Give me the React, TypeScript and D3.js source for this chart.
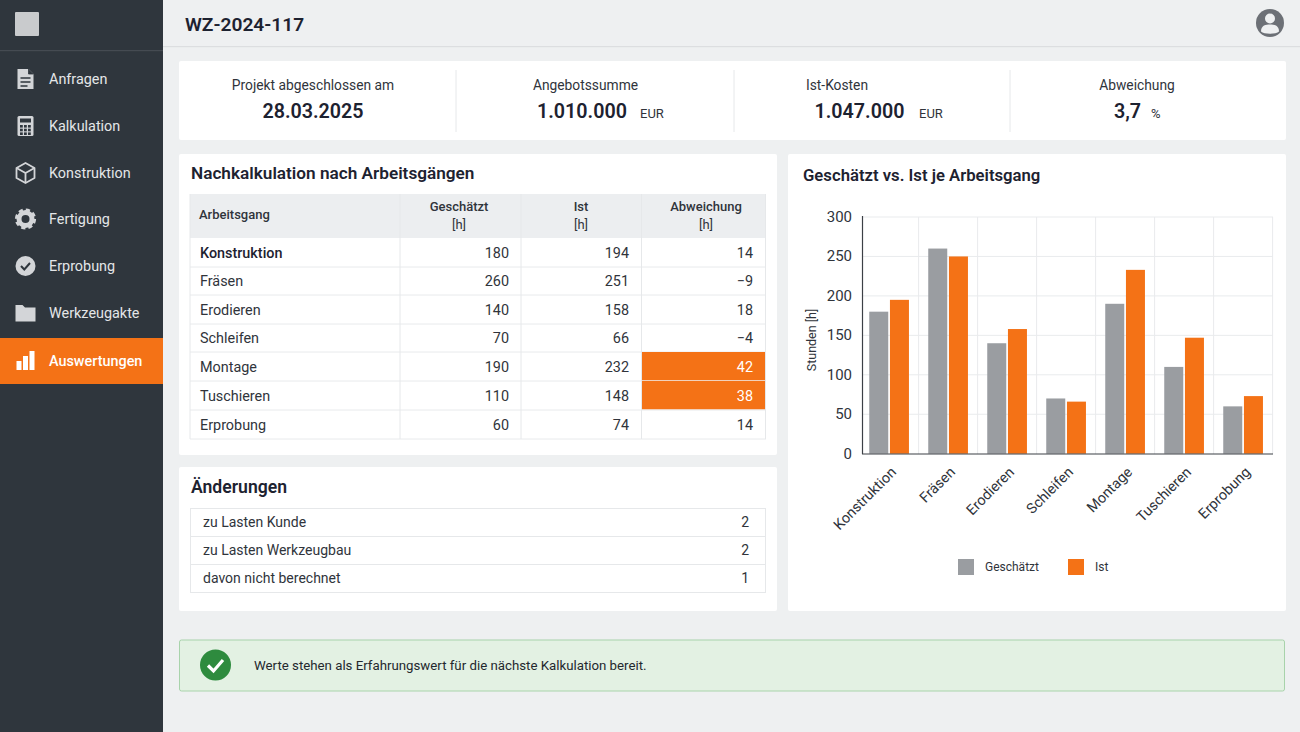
import React from "react";
import * as d3 from "d3";

const categories = ["Konstruktion", "Fräsen", "Erodieren", "Schleifen", "Montage", "Tuschieren", "Erprobung"];
const estimated = [180, 260, 140, 70, 190, 110, 60];
const actual = [194, 251, 158, 66, 232, 148, 74];
const chartActual = [195, 250, 158, 66, 233, 147, 73];
const deviationLabels = ["14", "−9", "18", "−4", "42", "38", "14"];
const highlighted = ["Montage", "Tuschieren"];
const yTicks = [0, 50, 100, 150, 200, 250, 300];
const navItems = ["Anfragen", "Kalkulation", "Konstruktion", "Fertigung", "Erprobung", "Werkzeugakte", "Auswertungen"];
const navY = [79, 126, 173, 219, 266, 313, 361];
const changes = ["zu Lasten Kunde", "zu Lasten Werkzeugbau", "davon nicht berechnet"];
const changeCounts = [2, 2, 1];
const rowEdges = [238, 267, 295, 324, 352, 381, 410, 439];

const FONT = "Roboto, sans-serif";
const INK = "#1d2230";
const BODY = "#30343b";
const ORANGE = "#f47216";
const GRAY = "#9a9da1";
const ICON = "#d3d5d8";

const x0 = d3.scaleBand<string>().domain(categories).range([859.6, 1272.6]).padding(0);
const x1 = d3.scaleBand<string>().domain(["e", "a"]).range([0, x0.bandwidth()]).paddingInner(0.082).paddingOuter(0.466);
const y = d3.scaleLinear().domain([0, 300]).range([453.7, 217]);

function T(p: any) {
  const { children, size = 14, weight = 400, fill = BODY, ...rest } = p;
  return <text fontFamily={FONT} fontSize={size} fontWeight={weight} fill={fill} {...rest}>{children}</text>;
}

function NavIcon({ i, cy }: { i: number; cy: number }) {
  const cx = 25.5;
  const t = `translate(${cx},${cy})`;
  const c = i === 6 ? "#ffffff" : ICON;
  const bg = "#2f363d";
  if (i === 0) return <g transform={t}>
    <path d="M-8,-10H3L8,-5V10H-8Z" fill={c} />
    <path d="M3,-10V-5H8" fill={bg} stroke={bg} strokeWidth={0.8} />
    <path d="M-5,-1H5M-5,3H5M-5,7H2" stroke={bg} strokeWidth={1.4} />
  </g>;
  if (i === 1) return <g transform={t}>
    <rect x={-8} y={-10} width={16} height={20} rx={1.5} fill={c} />
    <rect x={-5.5} y={-7.5} width={11} height={4} fill={bg} />
    {[0, 1, 2].flatMap(r => [0, 1, 2].map(k => <rect key={`${r}${k}`} x={-5.5 + k * 4} y={-1 + r * 3.7} width={2.8} height={2.6} fill={bg} />))}
  </g>;
  if (i === 2) return <g transform={t} fill="none" stroke={c} strokeWidth={1.8} strokeLinejoin="round">
    <path d="M0,-10L9,-5V5L0,10L-9,5V-5Z" />
    <path d="M-9,-5L0,0L9,-5M0,0V10" />
  </g>;
  if (i === 3) return <g transform={t}>
    <circle r={6.5} fill="none" stroke={c} strokeWidth={5} />
    <circle r={9.2} fill="none" stroke={c} strokeWidth={2.8} strokeDasharray="4.2 3.03" />
  </g>;
  if (i === 4) return <g transform={t}>
    <circle r={10} fill={c} />
    <path d="M-4.5,0L-1.2,3.5L4.5,-3" fill="none" stroke={bg} strokeWidth={2} />
  </g>;
  if (i === 5) return <g transform={t}>
    <path d="M-10,-8H-3L-0.5,-5.5H10V8.5H-10Z" fill={c} />
  </g>;
  return <g transform={t} fill={c}>
    <rect x={-9} y={0} width={5} height={9} />
    <rect x={-2.5} y={-5} width={5} height={14} />
    <rect x={4} y={-10} width={5} height={19} />
  </g>;
}

function Sidebar() {
  return <g>
    <rect x={0} y={0} width={163} height={732} fill="#2f363d" />
    <rect x={0} y={50} width={163} height={1.2} fill="#454b52" />
    <rect x={15} y={12} width={24} height={24} rx={1} fill="#c9cbcd" />
    <rect x={0} y={338} width={163} height={46} fill={ORANGE} />
    {navItems.map((n, i) => <g key={n}>
      <NavIcon i={i} cy={navY[i]} />
      <T x={49} y={navY[i] + 5} size={14.4} weight={i === 6 ? 500 : 400} fill={i === 6 ? "#fff" : "#e4e6e8"}>{n}</T>
    </g>)}
  </g>;
}

function Header() {
  return <g>
    <rect x={163} y={0} width={1137} height={46} fill="#eef0f1" />
    <rect x={163} y={46} width={1137} height={1.2} fill="#dcdee0" />
    <T x={185} y={30.5} size={19.2} weight={600} fill={INK}>WZ-2024-117</T>
    <circle cx={1270} cy={23} r={14} fill="#6c7076" />
    <circle cx={1270} cy={18.5} r={5} fill="#eef0f1" />
    <path d="M1261,31.5C1261,25 1266,24.5 1270,24.5C1274,24.5 1279,25 1279,31.5C1276,34.5 1264,34.5 1261,31.5Z" fill="#eef0f1" />
  </g>;
}

function Kpis() {
  return <g>
    <rect x={179} y={61} width={1107} height={79} rx={2} fill="#fff" />
    {[456, 734, 1010].map(v => <line key={v} x1={v} x2={v} y1={70} y2={132} stroke="#e6e8ea" />)}
    <T x={313} y={90} textAnchor="middle" size={13.8}>Projekt abgeschlossen am</T>
    <T x={313} y={118} textAnchor="middle" size={19.7} weight={600} fill={INK}>28.03.2025</T>
    <T x={585.5} y={90} textAnchor="middle" size={13.8}>Angebotssumme</T>
    <T x={582} y={118} textAnchor="middle" size={19.7} weight={600} fill={INK}>1.010.000</T>
    <T x={640} y={118} size={13}>EUR</T>
    <T x={837} y={90} textAnchor="middle" size={13.8}>Ist-Kosten</T>
    <T x={859.5} y={118} textAnchor="middle" size={19.7} weight={600} fill={INK}>1.047.000</T>
    <T x={919} y={118} size={13}>EUR</T>
    <T x={1137} y={90} textAnchor="middle" size={13.8}>Abweichung</T>
    <T x={1127.5} y={118} textAnchor="middle" size={19.7} weight={600} fill={INK}>3,7</T>
    <T x={1151} y={118} size={13}>%</T>
  </g>;
}

function TablePanel() {
  const cols = [190, 400, 521, 641.5, 765.5];
  return <g>
    <rect x={179} y={154} width={598} height={301} rx={2} fill="#fff" />
    <T x={191} y={178.5} size={17.2} weight={600} fill={INK}>Nachkalkulation nach Arbeitsgängen</T>
    <rect x={190} y={194} width={576} height={44} fill="#eceef0" />
    <T x={199} y={219} size={13} weight={500}>Arbeitsgang</T>
    {[["Geschätzt", 459], ["Ist", 581], ["Abweichung", 706]].map(([h, cx]) => <g key={h as string}>
      <T x={cx} y={211} size={13} weight={500} textAnchor="middle">{h}</T>
      <T x={cx} y={229} size={13} textAnchor="middle">[h]</T>
    </g>)}
    {categories.map((c, i) => {
      const top = rowEdges[i], bottom = rowEdges[i + 1], base = (top + bottom) / 2 + 5;
      const hi = highlighted.includes(c);
      return <g key={c}>
        {hi && <rect x={cols[3]} y={top} width={cols[4] - cols[3]} height={bottom - top - 0.5} fill={ORANGE} />}
        <T x={200} y={base} size={14.4} weight={i === 0 ? 500 : 400} fill={i === 0 ? INK : BODY}>{c}</T>
        <T x={509} y={base} size={14.4} textAnchor="end">{estimated[i]}</T>
        <T x={629} y={base} size={14.4} textAnchor="end">{actual[i]}</T>
        <T x={753} y={base} size={14.4} textAnchor="end" fill={hi ? "#fff" : BODY}>{deviationLabels[i]}</T>
        <line x1={190} x2={766} y1={bottom} y2={bottom} stroke="#e8eaec" />
      </g>;
    })}
    {cols.map(c => <line key={c} x1={c} x2={c} y1={194} y2={439} stroke="#e6e8ea" />)}
  </g>;
}

function ChangesPanel() {
  const h = 28;
  return <g>
    <rect x={179} y={467} width={598} height={144} rx={2} fill="#fff" />
    <T x={191} y={492.5} size={17.6} weight={600} fill={INK}>Änderungen</T>
    <rect x={190.5} y={508.5} width={575} height={84} fill="none" stroke="#e6e8ea" />
    {changes.map((c, i) => <g key={c}>
      {i > 0 && <line x1={190} x2={766} y1={508.5 + i * h} y2={508.5 + i * h} stroke="#e6e8ea" />}
      <T x={203} y={527 + i * h} size={14}>{c}</T>
      <T x={749} y={527 + i * h} size={14} textAnchor="end">{changeCounts[i]}</T>
    </g>)}
  </g>;
}

function ChartPanel() {
  const bandEdges = categories.slice(1).map(c => x0(c) as number).concat(x0.range()[1]);
  return <g>
    <rect x={788} y={154} width={498} height={457} rx={2} fill="#fff" />
    <T x={803} y={181} size={16.7} weight={600} fill={INK}>Geschätzt vs. Ist je Arbeitsgang</T>
    {yTicks.filter(t => t > 0).map(t => <line key={t} x1={862} x2={1273} y1={y(t)} y2={y(t)} stroke="#e9ebed" />)}
    {bandEdges.map((e, i) => <line key={i} x1={e} x2={e} y1={217} y2={454} stroke="#e9ebed" />)}
    {categories.map((c, i) => {
      const gx = x0(c) as number;
      return <g key={c}>
        <rect x={gx + (x1("e") as number)} y={y(estimated[i])} width={x1.bandwidth()} height={y(0) - y(estimated[i])} fill={GRAY} />
        <rect x={gx + (x1("a") as number)} y={y(chartActual[i])} width={x1.bandwidth()} height={y(0) - y(chartActual[i])} fill={ORANGE} />
        <T size={14.4} textAnchor="end" transform={`translate(${gx + x0.bandwidth() / 2 + 8},${473}) rotate(-45)`}>{c}</T>
      </g>;
    })}
    <line x1={862.5} x2={862.5} y1={216} y2={454} stroke="#3c4046" strokeWidth={1.2} />
    <line x1={862} x2={1273} y1={454} y2={454} stroke="#3c4046" strokeWidth={1.2} />
    {yTicks.map(t => <T key={t} x={852} y={y(t) + 5} size={15} textAnchor="end">{t}</T>)}
    <T size={12.5} textAnchor="middle" transform="translate(815.5,340) rotate(-90)">Stunden [h]</T>
    <rect x={958} y={559} width={16} height={16} fill={GRAY} />
    <T x={985} y={571} size={12}>Geschätzt</T>
    <rect x={1068} y={559} width={16} height={16} fill={ORANGE} />
    <T x={1095} y={571} size={12}>Ist</T>
  </g>;
}

function Banner() {
  return <g>
    <rect x={179.5} y={640} width={1105} height={51} rx={2} fill="#e3f1e3" stroke="#a8d3ab" />
    <circle cx={215.5} cy={665} r={15.5} fill="#2e8b3e" />
    <path d="M208,665.5L213.5,671L223,660" fill="none" stroke="#fff" strokeWidth={3.2} />
    <T x={254} y={670} size={13.25} fill="#24282e">Werte stehen als Erfahrungswert für die nächste Kalkulation bereit.</T>
  </g>;
}

export default function App() {
  return (
    <svg width={1300} height={732} viewBox="0 0 1300 732" style={{ position: "absolute", left: 0, top: 0, display: "block" }}>
      <rect width={1300} height={732} fill="#eef0f1" />
      <Sidebar />
      <Header />
      <Kpis />
      <TablePanel />
      <ChangesPanel />
      <ChartPanel />
      <Banner />
    </svg>
  );
}
